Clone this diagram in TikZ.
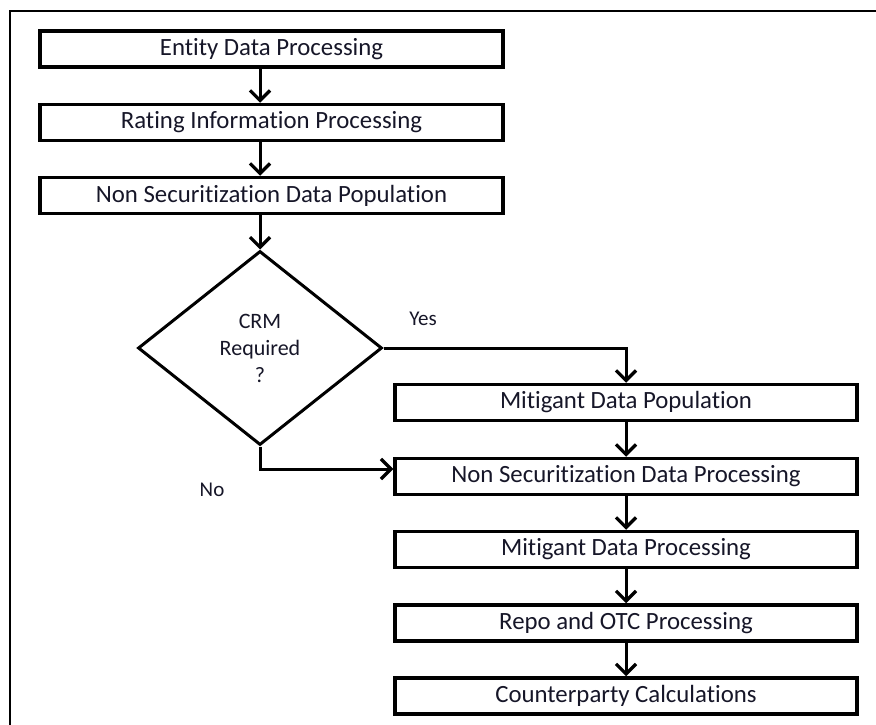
\documentclass[tikz,border=0pt]{standalone}
\usepackage{fontspec}
\setmainfont{Carlito}[Ligatures=NoCommon]
\usetikzlibrary{arrows.meta,shapes.geometric}
\definecolor{txt}{RGB}{22,22,40}
\tikzset{
  box/.style={draw=black, line width=3.5pt, rectangle, minimum width=463pt, minimum height=36pt, inner sep=0pt, text=txt, font=\fontsize{24.8}{28}\selectfont},
  rbox/.style={box, minimum width=462pt},
  dec/.style={draw=black, line width=3pt, diamond, minimum width=244pt, minimum height=194pt, inner sep=0pt, text=txt, align=center, font=\fontsize{22}{27}\selectfont},
  arr/.style={draw=black, line width=3pt, -{Straight Barb[length=10pt,width=20pt,line width=3.2pt]}},
  lbl/.style={text=txt, font=\fontsize{21}{24}\selectfont, inner sep=0pt},
}
\begin{document}
\begin{tikzpicture}[x=1pt,y=-1pt]
\useasboundingbox (0,0) rectangle (876,725);
\draw[line width=2.5pt] (10,725) -- (10,11) -- (876,11);
\node[box] (b1) at (271.5,49) {Entity Data Processing};
\node[box] (b2) at (271.5,122.5) {Rating Information Processing};
\node[box] (b3) at (271.5,195.5) {Non Securitization Data Population};
\node[dec] (d) at (260,348) {CRM\\Required\\?};
\node[rbox] (b4) at (626,402.5) {Mitigant Data Population};
\node[rbox] (b5) at (626,476.5) {Non Securitization Data Processing};
\node[rbox] (b6) at (626,549.5) {Mitigant Data Processing};
\node[rbox] (b7) at (626,623) {Repo and OTC Processing};
\node[rbox] (b8) at (626,696) {Counterparty Calculations};
\node[lbl] (yes) at (423,319) {Yes};
\node[lbl] (no) at (212,490) {No};
\draw[arr] (b1.south -| d.north) -- (b2.north -| d.north);
\draw[arr] (b2.south -| d.north) -- (b3.north -| d.north);
\draw[arr] (b3.south -| d.north) -- (d.north);
\draw[arr] (d.east) -| (b4.north);
\draw[arr] (d.south) |- (b5.west |- 0,469);
\draw[arr] (b4.south) -- (b5.north);
\draw[arr] (b5.south) -- (b6.north);
\draw[arr] (b6.south) -- (b7.north);
\draw[arr] (b7.south) -- (b8.north);
\end{tikzpicture}
\end{document}
